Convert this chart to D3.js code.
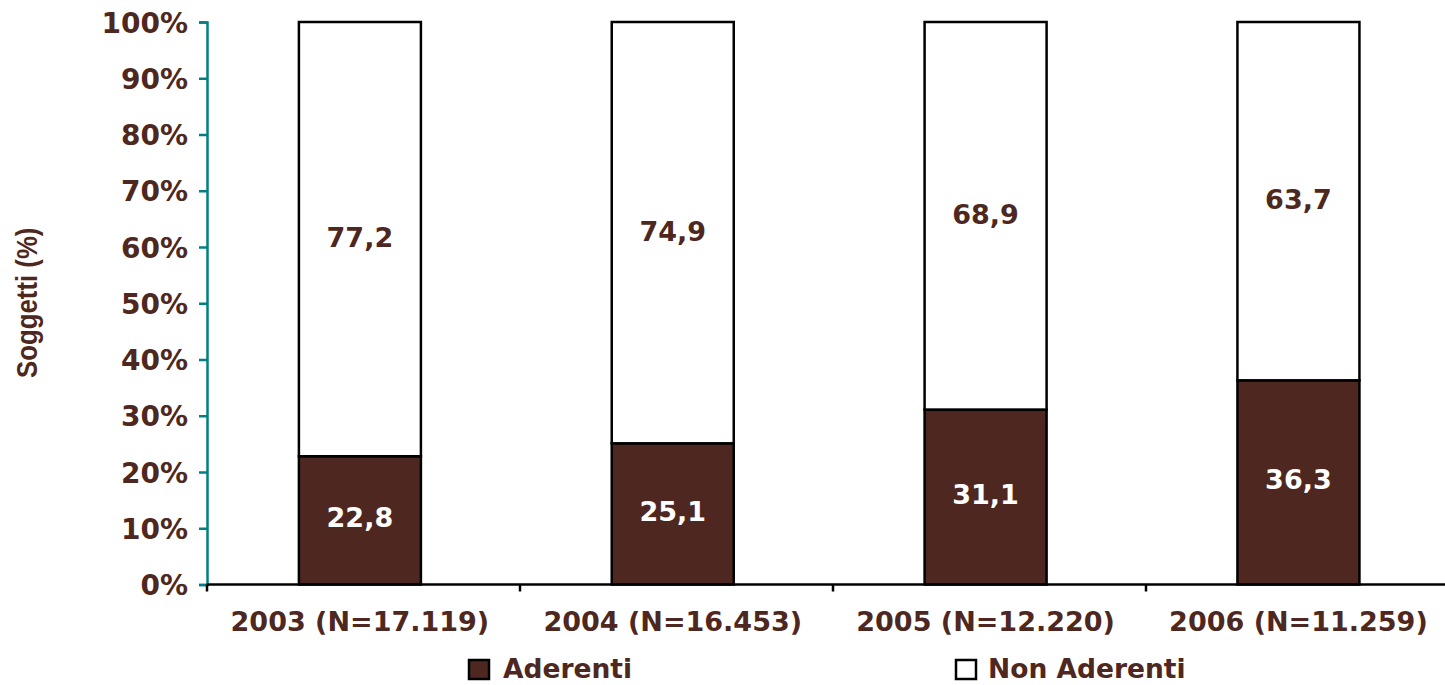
<!DOCTYPE html>
<html>
<head>
<meta charset="utf-8">
<script src="https://cdn.jsdelivr.net/npm/d3@7"></script>
<style>
  html, body { margin: 0; padding: 0; background: #ffffff; }
  svg { display: block; }
</style>
</head>
<body>
<svg id="chart" width="1445" height="685"></svg>
<script>
// ---- Data ----
const categories = ["2003 (N=17.119)", "2004 (N=16.453)", "2005 (N=12.220)", "2006 (N=11.259)"];
const aderenti = [22.8, 25.1, 31.1, 36.3];
const nonAderenti = [77.2, 74.9, 68.9, 63.7];
const seriesNames = ["Aderenti", "Non Aderenti"];
const yTicks = [0, 10, 20, 30, 40, 50, 60, 70, 80, 90, 100];
const yTitle = "Soggetti (%)";

(function () {
// ---- Styles ----
const brown = "#4E2820";
const teal = "#008080";
const fontMain = "'DejaVu Sans', Verdana, sans-serif";

const svg = d3.select("#chart");

const plotLeft = 207, plotRight = 1459, plotTop = 22, plotBottom = 584.5;

const y = d3.scaleLinear().domain([0, 100]).range([plotBottom, plotTop]);
const xBand = d3.scaleBand().domain(categories).range([plotLeft, plotRight])
  .paddingInner(0.61).paddingOuter(0.306).align(0.48);
const xCat = d3.scaleBand().domain(categories).range([plotLeft, plotRight]).padding(0);

const stackData = categories.map((c, i) => ({cat: c, Aderenti: aderenti[i], "Non Aderenti": nonAderenti[i]}));
const stacked = d3.stack().keys(seriesNames)(stackData);
const fills = {"Aderenti": brown, "Non Aderenti": "#ffffff"};
const labelFill = {"Aderenti": "#ffffff", "Non Aderenti": brown};

// ---- Bars ----
const layers = svg.append("g").selectAll("g").data(stacked).join("g")
  .attr("fill", d => fills[d.key]);

layers.selectAll("rect").data(d => d).join("rect")
  .attr("x", d => xBand(d.data.cat))
  .attr("width", xBand.bandwidth())
  .attr("y", d => y(d[1]))
  .attr("height", d => y(d[0]) - y(d[1]))
  .attr("stroke", "#000")
  .attr("stroke-width", 2.5);

// ---- Value labels ----
stacked.forEach(layer => {
  svg.append("g").selectAll("text").data(layer).join("text")
    .attr("x", d => xBand(d.data.cat) + xBand.bandwidth() / 2)
    .attr("y", d => y((d[0] + d[1]) / 2))
    .attr("dy", layer.key === "Aderenti" ? "0.26em" : "0.3em")
    .attr("text-anchor", "middle")
    .attr("font-family", fontMain)
    .attr("font-weight", "bold")
    .attr("font-size", 27)
    .attr("fill", labelFill[layer.key])
    .text(d => d3.format(".1f")(d[1] - d[0]).replace(".", ","));
});

// ---- Y axis ----
const yAxis = svg.append("g")
  .attr("transform", `translate(${plotLeft},0)`)
  .call(d3.axisLeft(y).tickValues(yTicks).tickFormat(d => d + "%").tickSize(8).tickPadding(11));
yAxis.select(".domain").attr("stroke", teal).attr("stroke-width", 2.5);
yAxis.selectAll(".tick line").attr("stroke", teal).attr("stroke-width", 2.5);
yAxis.selectAll(".tick text")
  .attr("font-family", fontMain)
  .attr("font-weight", "bold")
  .attr("font-size", 28)
  .attr("fill", brown)
  .attr("dy", "0.36em");

// ---- X axis ----
const xAxisG = svg.append("g").attr("transform", `translate(0,${plotBottom})`);
xAxisG.append("line")
  .attr("x1", plotLeft).attr("x2", 1445)
  .attr("y1", 0).attr("y2", 0)
  .attr("stroke", "#000").attr("stroke-width", 2.5);
const tickPositions = categories.map(c => xCat(c)).concat([plotRight]);
xAxisG.selectAll(".xt").data(tickPositions).join("line")
  .attr("class", "xt")
  .attr("x1", d => d).attr("x2", d => d)
  .attr("y1", 0).attr("y2", 7)
  .attr("stroke", "#000").attr("stroke-width", 2.5);
xAxisG.selectAll("text").data(categories).join("text")
  .attr("x", d => xBand(d) + xBand.bandwidth() / 2)
  .attr("y", 631 - plotBottom)
  .attr("text-anchor", "middle")
  .attr("font-family", fontMain)
  .attr("font-weight", "bold")
  .attr("font-size", 27)
  .attr("fill", brown)
  .text(d => d);

// ---- Y title ----
svg.append("text")
  .attr("transform", "translate(37,378) rotate(-90) scale(0.86,1)")
  .attr("text-anchor", "start")
  .attr("font-family", "'Liberation Sans', Arial, sans-serif")
  .attr("font-weight", "bold")
  .attr("font-size", 30)
  .attr("fill", brown)
  .text(yTitle);

// ---- Legend ----
const legendItems = [
  {name: seriesNames[0], sx: 469, tx: 503},
  {name: seriesNames[1], sx: 956, tx: 988}
];
const lg = svg.append("g");
lg.selectAll("rect").data(legendItems).join("rect")
  .attr("x", d => d.sx).attr("y", 660)
  .attr("width", 20).attr("height", 19)
  .attr("fill", d => fills[d.name])
  .attr("stroke", "#000").attr("stroke-width", 2.5);
lg.selectAll("text").data(legendItems).join("text")
  .attr("x", d => d.tx).attr("y", 678)
  .attr("font-family", fontMain)
  .attr("font-weight", "bold")
  .attr("font-size", 26.5)
  .attr("fill", brown)
  .text(d => d.name);
})();
</script>
</body>
</html>
